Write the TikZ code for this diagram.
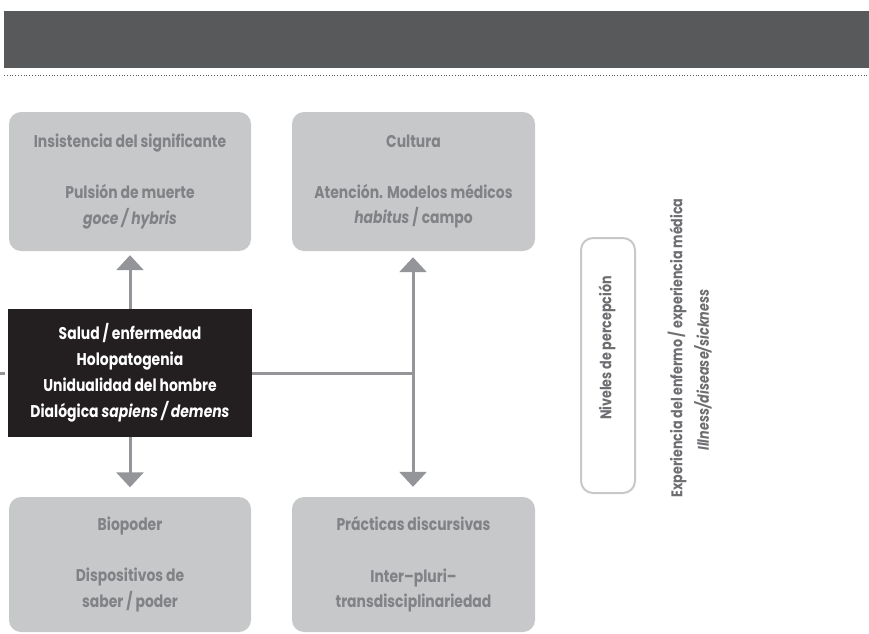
\documentclass[tikz,border=0pt]{standalone}
\usepackage{fontspec}
\setmainfont{Poppins}[FakeStretch=0.82]
\usetikzlibrary{arrows.meta}
\definecolor{band}{HTML}{58595B}
\definecolor{boxfill}{HTML}{C7C8CA}
\definecolor{boxtext}{HTML}{808285}
\definecolor{core}{HTML}{231F20}
\definecolor{conn}{HTML}{939598}
\definecolor{sidetext}{HTML}{6D6E71}
\tikzset{
  greybox/.style={rectangle, rounded corners=12pt, fill=boxfill, text=boxtext,
    minimum width=242pt, inner sep=0pt, align=center,
    font=\fontsize{17}{25.6}\selectfont\bfseries},
  corebox/.style={rectangle, fill=core, text=white, minimum width=244pt,
    minimum height=128pt, inner sep=0pt, align=center,
    font=\fontsize{17}{26}\selectfont\bfseries},
  conline/.style={draw=conn, line width=3pt},
  arr/.style={conline, -{Triangle[width=27pt,length=15pt]}},
  sidebox/.style={rectangle, rounded corners=12pt, draw=boxfill, line width=2pt,
    fill=white, minimum width=54pt, minimum height=255pt},
  sidelabel/.style={text=sidetext, rotate=90, inner sep=0pt,
    font=\fontsize{15.5}{20}\selectfont\bfseries}
}
\begin{document}
\begin{tikzpicture}[x=1pt,y=-1pt]
\useasboundingbox (0,0) rectangle (869,633);
% header band
\fill[band] (4,11) rectangle (869,68);
\draw[band, line width=0.8pt, dotted] (4,75) -- (869,75);
% boxes
\node[greybox, minimum height=139pt] (tl) at (130,181.5)
  {Insistencia del significante\\[0pt] \\[0pt]Pulsión de muerte\\[0pt]\textit{goce / hybris}};
\node[greybox, minimum height=139pt, minimum width=243pt] (tm) at (413.5,181.5)
  {Cultura\\[0pt] \\[0pt]Atención. Modelos médicos\\[0pt]\textit{habitus} / campo};
\node[greybox, minimum height=135pt] (bl) at (130,564.5)
  {Biopoder\\[0pt] \\[0pt]Dispositivos de\\[0pt]saber / poder};
\node[greybox, minimum height=135pt, minimum width=243pt] (bm) at (413.5,564.5)
  {Prácticas discursivas\\[0pt] \\[0pt]Inter–pluri–\\[0pt]transdisciplinariedad};
\node[corebox] (core) at (130,373)
  {Salud / enfermedad\\Holopatogenia\\Unidualidad del hombre\\Dialógica \textit{sapiens / demens}};
% connectors
\coordinate (stub) at (0,373);
\coordinate (junc) at (413,373);
\draw[conline, shorten >=3pt] (stub) -- (core.west);
\draw[arr, shorten >=4pt] (core.north) -- (tl.south);
\draw[arr, shorten >=9.5pt] (core.south) -- (bl.north);
\draw[conline] (core.east) -- (junc);
\draw[arr, shorten >=6pt] (junc) -- (junc |- tm.south);
\draw[arr, shorten >=10pt] (junc) -- (junc |- bm.north);
% side
\node[sidebox] (niv) at (608,365.5) {};
\node[sidelabel] (nivtext) at (607,348) {Niveles de percepción};
\node[sidelabel] (exp1) at (677,348) {Experiencia del enfermo / experiencia médica};
\node[sidelabel] (exp2) at (703,370) {\textit{Illness/disease/sickness}};
\end{tikzpicture}
\end{document}
